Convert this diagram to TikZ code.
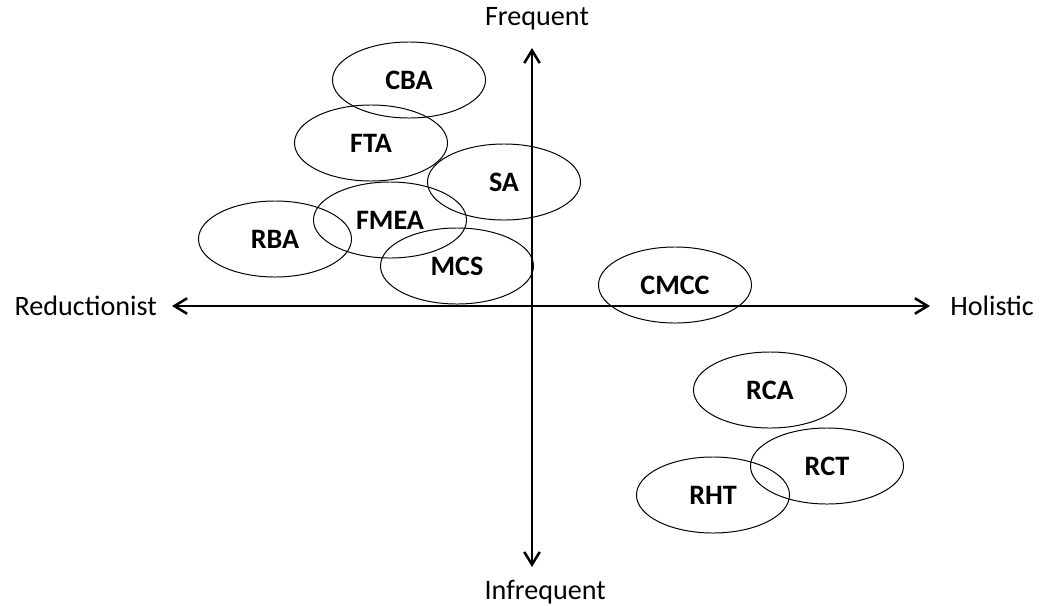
\documentclass[tikz,border=0pt]{standalone}
\usepackage{fontspec}
\setmainfont{Carlito}
\usetikzlibrary{positioning, arrows.meta, shapes.geometric}

\begin{document}
\begin{tikzpicture}
    [
        x=0.025cm, y=-0.025cm, % pixel grid of the figure
        method/.style={draw, ellipse, inner sep=0pt, minimum width=3.825cm, minimum height=1.9cm, line width=0.7pt, font=\fontsize{20}{24}\selectfont\bfseries},
        axislabel/.style={inner sep=0pt, font=\fontsize{20}{24}\selectfont},
        axis/.style={line width=1.8pt, {Straight Barb[length=9pt, width=11pt]}-{Straight Barb[length=9pt, width=11pt]}}
    ]
        \useasboundingbox (0,0) rectangle (1041,606);
        % =========================================================================
        % NODES
        % =========================================================================
        % --- Axis ends ---
        \coordinate (west) at (172,306);
        \coordinate (east) at (930,306);
        \coordinate (north) at (532,48);
        \coordinate (south) at (532,567);
        % --- Axis labels ---
        \node [axislabel, left=0.375cm of west] (reductionist) {Reductionist};
        \node [axislabel, right=0.5cm of east] (holistic) {Holistic};
        \node [axislabel, above=0.45cm of north, xshift=0.125cm] (frequent) {Frequent};
        \node [axislabel, below=0.33cm of south, xshift=0.33cm] (infrequent) {Infrequent};
        % --- Methods, upper left ---
        \node [method] (cba) at (409,80) {CBA};
        \node [method] (fta) at (371,143) {FTA};
        \node [method] (sa) at (504,182) {SA};
        \node [method] (fmea) at (390,220) {FMEA};
        \node [method] (rba) at (275,239) {RBA};
        \node [method] (mcs) at (457,266) {MCS};
        % --- Methods, right ---
        \node [method] (cmcc) at (675,285) {CMCC};
        \node [method] (rca) at (770,390) {RCA};
        \node [method] (rct) at (827,466) {RCT};
        \node [method] (rht) at (713,495) {RHT};

        % =========================================================================
        % PATHS
        % =========================================================================
        \draw [axis] (west) -- (east);
        \draw [axis] (south) -- (north);

\end{tikzpicture}
\end{document}
